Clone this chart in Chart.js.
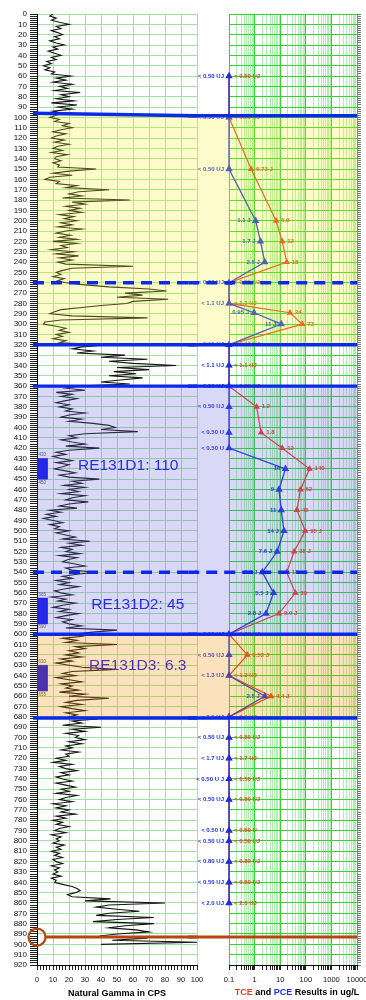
<!DOCTYPE html>
<html>
<head>
<meta charset="utf-8">
<script src="https://cdn.jsdelivr.net/npm/chart.js@4.4.1/dist/chart.umd.min.js"></script>
<style>
  html, body { margin: 0; padding: 0; background: #fff; overflow: hidden; width: 366px; height: 1000px; }
  #gammaBox { position: absolute; left: 0; top: 0; width: 215px; height: 1000px; }
  #chemBox  { position: absolute; left: 188px; top: 0; width: 186px; height: 1000px; }
</style>
</head>
<body>
<div id="gammaBox"><canvas id="gamma"></canvas></div>
<div id="chemBox"><canvas id="chem"></canvas></div>
<script>
// ---------------- log data ----------------
const depthMinFt = 0;
const depthMaxFt = 920;

// natural gamma log, sampled every 2 ft from the top of the hole
const gammaStartFt = 0;
const gammaStepFt = 2;
const gammaCps = [
  10, 8, 12, 9, 14,   20, 12, 15, 9, 13,   16, 11, 14, 8, 12,   17, 10, 13, 7, 11,
  15, 9, 12, 6, 9,    4, 8, 5, 11, 9,      21, 12, 18, 10, 22,  14, 19, 11, 27, 15,
  20, 12, 23, 9, 25,  13, 22, 10, 16, 12,  8, 14, 11, 20, 16,   22, 15, 10, 18, 12,
  9, 17, 11, 20, 13,  10, 16, 9, 19, 12,   11, 15, 10, 14, 13,  37, 20, 10, 22, 8,
  5, 14, 12, 25, 18,  45, 26, 20, 28, 16,  58, 22, 30, 18, 27,  20, 28, 14, 23, 17,
  25, 15, 22, 13, 28, 18, 12, 21, 14, 25,  10, 25, 15, 19, 9,   23, 12, 26, 14, 22,
  13, 18, 60, 22, 16, 12, 15, 10, 17, 13,  18, 30, 45, 70, 81,  55, 66, 50, 82, 60,
  56, 40, 28, 15, 11, 8, 22, 69, 15, 5,    4, 12, 18, 14, 20,   12, 16, 10, 18, 14,
  45, 28, 22, 35, 25, 55, 40, 69, 45, 60,  87, 50, 70, 48, 62,  45, 66, 52, 40, 58,
  25, 18, 30, 12, 22, 15, 25, 18, 12, 20,  14, 22, 18, 30, 20,  15, 28, 20, 35, 45,
  49, 40, 63, 30, 20, 25, 15, 22, 30, 18,  39, 20, 12, 18, 10,  15, 22, 12, 20, 16,
  11, 18, 24, 14, 20, 39, 22, 28, 17, 30,  20, 26, 15, 30, 22,  18, 32, 20, 14, 25,
  8, 15, 6, 12, 4,    10, 16, 8, 14, 11,   20, 12, 18, 24, 16,  33, 20, 28, 15, 22,
  18, 27, 14, 25, 19, 16, 24, 30, 18, 22,  37, 25, 16, 22, 12,  20, 14, 26, 18, 11,
  15, 22, 9, 18, 13,  24, 16, 10, 20, 14,  26, 18, 12, 22, 16,  20, 28, 18, 50, 35,
  22, 28, 16, 25, 18, 50, 24, 30, 20, 26,  18, 28, 15, 22, 12,  20, 28, 50, 22, 16,
  24, 12, 20, 28, 15, 22, 18, 26, 14, 30,  20, 45, 25, 18, 28,  15, 22, 30, 18, 25,
  20, 38, 22, 28, 16, 40, 22, 30, 18, 26,  24, 30, 20, 28, 18,  22, 15, 26, 18, 20,
  12, 18, 10, 22, 14, 18, 25, 15, 20, 12,  16, 22, 12, 18, 24,  15, 20, 12, 25, 18,
  14, 22, 10, 18, 12, 20, 15, 24, 12, 18,  10, 16, 12, 20, 14,  11, 18, 9, 15, 12,
  14, 10, 17, 12, 15, 9, 14, 11, 16, 10,   12, 16, 9, 14, 11,   13, 10, 15, 9, 12,
  11, 16, 22, 25, 27, 24, 19, 22, 46, 30,  80, 45, 37, 50, 64,  45, 37, 73, 50, 35,
  73, 55, 45, 62, 70, 50, 39, 69, 47, 100, 40
];

// groundwater grab samples: depth and reported TCE / PCE results (ug/L)
const sampleDepthFt = [60, 100, 150, 200, 220, 240, 260, 280, 289, 300, 320, 340, 360, 380, 405, 420, 440, 460, 480, 500,
                       520, 540, 560, 580, 600, 620, 640, 660, 680, 700, 720, 740, 760, 790, 800, 820, 840, 860];
const pceReported  = ['0.50','0.50','0.50','1.1','1.7','2.5','0.50','1.1','0.95','11','0.91','1.1','0.50','0.50','0.50','0.50','16','9','11','14',
                      '7.6','2.0','5.5','2.8','0.50','0.50','1.3','2.5','2.0','0.50','1.7','0.50','0.50','0.50','0.50','0.80','0.50','2.0'];
const pceQualifier = ['UJ','UJ','UJ','J','J','J','UJ','UJ','J','J','UJ','UJ','UJ','UJ','U','U','','','','J',
                      'J','J','J','J','UJ','UJ','UJ','J','UJ','UJ','UJ','U J','UJ','U','UJ','UJ','UJ','UJ'];
const tceReported  = ['0.50','0.50','0.73','6.9','12','18','0.50','1.1','24','73','0.91','1.1','0.50','1.2','1.8','12','140','62','45','95',
                      '35','18','39','9.0','0.50','0.52','1.3','4.4','2.0','0.50','1.7','0.50','0.50','0.50','0.50','0.80','0.50','2.0'];
const tceQualifier = ['UJ','UJ','J','','','','UJ','UJ','','','UJ','UJ','UJ','','','','','','','J',
                      'J','','','J','UJ','J','UJ','J','UJ','UJ','UJ','UJ','UJ','U','UJ','UJ','UJ','UJ'];
// non-detects are posted on the left edge of the log axis
const nonDetectPlotUgL = 0.1;

// lithologic / hydrogeologic contacts (ft)
const contactDepthFt     = [98.4, 260, 320, 360, 540, 600, 681, 893];
const contactLeftDepthFt = [96,   260, 320, 360, 540, 600, 681, 893];
const contactDashed      = [false, true, false, false, true, false, false, false];
const contactTailFt      = [6, 0, 6, 6, -6, 6, 6, 4];

// shaded zones (ft)
const zoneTopFt    = [97, 360, 600];
const zoneBottomFt = [320, 600, 681];

// packer-test intervals and their TCE result
const intervalTopFt    = [430, 565, 630];
const intervalBottomFt = [450, 590, 655];
const intervalName     = ['RE131D1: 110', 'RE131D2: 45', 'RE131D3: 6.3'];
const intervalLabelFt  = [437, 571, 630];
const intervalLabelCps = [57, 63, 63];

// ---------------- styling ----------------
const FONT = '"Liberation Sans", Arial, Helvetica, sans-serif';
const PCE_COLOR = '#1f2fe6';
const TCE_COLOR = '#ee3a1e';
const CONTACT_BLUE = '#0b2ae8';
const CONTACT_BROWN = '#b4470f';
const GRID_LEFT = '#9fe39f';
const GRID_RIGHT = '#2fd62f';
const GRID_RIGHT_MINOR = '#b2eeb2';
const ZONE_FILL = ['rgba(243,239,40,0.25)', 'rgba(103,103,223,0.25)', 'rgba(239,143,0,0.26)'];
const INTERVAL_FILL = '#1212ee';

Chart.defaults.font.family = FONT;
Chart.defaults.animation = false;

const isNonDetect = q => q.charAt(0) === 'U';
const plotValue = (rep, q) => isNonDetect(q) ? nonDetectPlotUgL : parseFloat(rep);
const resultText = (rep, q) => (isNonDetect(q) ? '< ' : '') + rep + (q ? ' ' + q : '');

const gammaPoints = gammaCps.map((v, i) => ({ x: v, y: gammaStartFt + i * gammaStepFt }));
const pcePoints = sampleDepthFt.map((d, i) => ({ x: plotValue(pceReported[i], pceQualifier[i]), y: d }));
const tcePoints = sampleDepthFt.map((d, i) => ({ x: plotValue(tceReported[i], tceQualifier[i]), y: d }));

// shades the zones; drawn over the curves so they pick up the tint
function drawZones(chart, leftPx) {
  const ctx = chart.ctx, y = chart.scales.y, area = chart.chartArea;
  zoneTopFt.forEach((top, i) => {
    const y0 = y.getPixelForValue(top), y1 = y.getPixelForValue(zoneBottomFt[i]);
    ctx.fillStyle = ZONE_FILL[i];
    ctx.fillRect(leftPx, y0, area.right - leftPx, y1 - y0);
  });
}

const gammaOverlay = {
  id: 'gammaOverlay',
  afterDatasetDraw(chart, args) {
    if (!chart.data.datasets[args.index].zonesAbove) return;
    const ctx = chart.ctx, x = chart.scales.x, y = chart.scales.y;
    ctx.save();
    // interval depth tags
    ctx.font = '4.5px ' + FONT;
    ctx.fillStyle = '#555';
    ctx.textAlign = 'left';
    intervalTopFt.forEach((top, i) => {
      ctx.textBaseline = 'bottom';
      ctx.fillText(String(top), x.getPixelForValue(1), y.getPixelForValue(top) - 1);
      ctx.textBaseline = 'top';
      ctx.fillText(String(intervalBottomFt[i]), x.getPixelForValue(1), y.getPixelForValue(intervalBottomFt[i]) + 1);
    });
    // interval names
    ctx.font = '15.5px ' + FONT;
    ctx.fillStyle = '#1414f0';
    ctx.textAlign = 'center';
    ctx.textBaseline = 'middle';
    intervalName.forEach((t, i) => {
      ctx.fillText(t, x.getPixelForValue(intervalLabelCps[i]), y.getPixelForValue(intervalLabelFt[i]));
    });
    drawZones(chart, chart.chartArea.left);
    ctx.restore();
  }
};

const chemOverlay = {
  id: 'chemOverlay',
  afterDatasetDraw(chart, args) {
    if (!chart.data.datasets[args.index].zonesAbove) return;
    const ctx = chart.ctx, x = chart.scales.x, y = chart.scales.y;
    ctx.save();
    ctx.font = 'bold 6px ' + FONT;
    ctx.textBaseline = 'middle';
    sampleDepthFt.forEach((d, i) => {
      const py = y.getPixelForValue(d);
      ctx.textAlign = 'right';
      ctx.fillStyle = PCE_COLOR;
      ctx.fillText(resultText(pceReported[i], pceQualifier[i]), x.getPixelForValue(pcePoints[i].x) - 5, py);
      ctx.textAlign = 'left';
      ctx.fillStyle = TCE_COLOR;
      ctx.fillText(resultText(tceReported[i], tceQualifier[i]), x.getPixelForValue(tcePoints[i].x) + 5, py);
    });
    drawZones(chart, chart.chartArea.left - 32);
    ctx.restore();
  },
  afterDraw(chart) {
    const ctx = chart.ctx, area = chart.chartArea;
    const parts = [['TCE', TCE_COLOR], [' and ', '#000'], ['PCE', PCE_COLOR], [' Results in ug/L', '#000']];
    ctx.save();
    ctx.font = 'bold 9px ' + FONT;
    ctx.textBaseline = 'middle';
    ctx.textAlign = 'left';
    const total = parts.reduce((s, p) => s + ctx.measureText(p[0]).width, 0);
    let px = (area.left + area.right) / 2 + 4 - total / 2;
    const py = chart.height - 7;
    parts.forEach(([t, c]) => { ctx.fillStyle = c; ctx.fillText(t, px, py); px += ctx.measureText(t).width; });
    ctx.restore();
  }
};

const depthScale = extra => Object.assign({ type: 'linear', min: depthMinFt, max: depthMaxFt, reverse: true }, extra);
const every10 = v => Math.abs(v % 10) < 1e-6;

// ---------------- gamma panel ----------------
const gammaSets = [
  { data: gammaPoints, showLine: true, borderColor: '#141414', borderWidth: 1.1, pointRadius: 0, order: 10 }
];
intervalTopFt.forEach((top, i) => {
  const bot = intervalBottomFt[i];
  gammaSets.push({
    data: [{ x: 0, y: top }, { x: 6.5, y: top }, { x: 6.5, y: bot }, { x: 0, y: bot }, { x: 0, y: top }],
    showLine: true, fill: 'shape', backgroundColor: INTERVAL_FILL, borderColor: INTERVAL_FILL, borderWidth: 0.5,
    pointRadius: 0, order: 9 - i, zonesAbove: i === intervalTopFt.length - 1
  });
});
contactDepthFt.forEach((d, i) => {
  const brown = i === contactDepthFt.length - 1;
  gammaSets.push({
    data: [{ x: brown ? 5.5 : -2.5, y: contactLeftDepthFt[i] }, { x: 100, y: d }],
    showLine: true, borderColor: brown ? CONTACT_BROWN : CONTACT_BLUE, borderWidth: brown ? 3 : 3.4,
    borderDash: contactDashed[i] ? [11, 7] : [], pointRadius: 0, clip: false, order: 1
  });
});
gammaSets.push({
  data: [{ x: 0, y: contactDepthFt[contactDepthFt.length - 1] }],
  pointStyle: 'circle', pointRadius: 8.5, pointBorderWidth: 2.2, pointBorderColor: CONTACT_BROWN,
  pointBackgroundColor: 'rgba(0,0,0,0)', clip: false, order: 0
});

new Chart(document.getElementById('gamma'), {
  type: 'scatter',
  data: { datasets: gammaSets },
  options: {
    responsive: true, maintainAspectRatio: false,
    layout: { padding: { top: 14, right: 18, left: 0, bottom: 0 } },
    plugins: { legend: { display: false }, tooltip: { enabled: false } },
    scales: {
      x: {
        type: 'linear', min: 0, max: 100, position: 'bottom',
        afterFit(s) { s.height = 35; },
        ticks: { stepSize: 2, autoSkip: false, maxRotation: 0, padding: 5, color: '#111', font: { size: 7.5 },
                 callback: v => every10(v) ? String(v) : '' },
        grid: { color: c => (c.tick && every10(c.tick.value)) ? GRID_LEFT : 'rgba(0,0,0,0)', tickColor: '#222', tickLength: 5 },
        border: { display: true, color: '#000' },
        title: { display: true, text: 'Natural Gamma in CPS', color: '#000', font: { size: 9, weight: 'bold' }, padding: { top: 0, bottom: 1 } }
      },
      y: depthScale({
        position: 'left',
        afterFit(s) { s.width = 37; },
        ticks: { stepSize: 2, autoSkip: false, padding: 3, color: '#111', font: { size: 8 },
                 callback: v => every10(v) ? String(v) : '' },
        grid: { color: c => (c.tick && every10(c.tick.value)) ? GRID_LEFT : 'rgba(0,0,0,0)', tickColor: '#222', tickLength: 7 },
        border: { display: true, color: '#000' }
      })
    }
  },
  plugins: [gammaOverlay]
});

// ---------------- TCE / PCE panel ----------------
const logTicks = [];
for (let e = -1; e < 4; e++) for (let m = 1; m < 10; m++) logTicks.push(+(m * Math.pow(10, e)).toPrecision(2));
logTicks.push(10000);
const isDecade = v => Math.abs(Math.log10(v) - Math.round(Math.log10(v))) < 1e-9;

const chemSets = [
  { data: tcePoints, showLine: true, borderColor: TCE_COLOR, borderWidth: 1.2, pointStyle: 'triangle', pointRadius: 2.6,
    pointBackgroundColor: TCE_COLOR, pointBorderColor: TCE_COLOR, clip: false, order: 3 },
  { data: pcePoints, showLine: true, borderColor: PCE_COLOR, borderWidth: 1.3, pointStyle: 'triangle', pointRadius: 3,
    pointBackgroundColor: PCE_COLOR, pointBorderColor: PCE_COLOR, clip: false, order: 2, zonesAbove: true }
];
contactDepthFt.forEach((d, i) => {
  const brown = i === contactDepthFt.length - 1;
  chemSets.push({
    data: [{ x: 0.0001, y: d }, { x: 10000, y: d }, { x: 22500, y: d + contactTailFt[i] }],
    showLine: true, borderColor: brown ? CONTACT_BROWN : CONTACT_BLUE, borderWidth: brown ? 3 : 3.4,
    borderDash: contactDashed[i] ? [11, 7] : [], pointRadius: 0, clip: false, order: 1
  });
});

new Chart(document.getElementById('chem'), {
  type: 'scatter',
  data: { datasets: chemSets },
  options: {
    responsive: true, maintainAspectRatio: false,
    layout: { padding: { top: 14, right: 0, left: 41, bottom: 0 } },
    plugins: { legend: { display: false }, tooltip: { enabled: false } },
    scales: {
      x: {
        type: 'logarithmic', min: 0.1, max: 10000, position: 'bottom',
        afterBuildTicks(s) { s.ticks = logTicks.map(v => ({ value: v })); },
        afterFit(s) { s.height = 35; },
        ticks: { autoSkip: false, maxRotation: 0, padding: 5, color: '#111', font: { size: 7.5 },
                 callback: v => isDecade(v) ? String(v) : '' },
        grid: { color: c => (c.tick && isDecade(c.tick.value)) ? GRID_RIGHT : GRID_RIGHT_MINOR, tickColor: '#222', tickLength: 5 },
        border: { display: true, color: '#000' }
      },
      y: depthScale({
        position: 'right',
        afterFit(s) { s.width = 17; },
        ticks: { stepSize: 2, autoSkip: false, padding: 0, callback: () => '' },
        grid: { color: c => (c.tick && every10(c.tick.value)) ? GRID_RIGHT : 'rgba(0,0,0,0)', tickColor: '#777', tickLength: 4 },
        border: { display: false }
      })
    }
  },
  plugins: [chemOverlay]
});
</script>
</body>
</html>
